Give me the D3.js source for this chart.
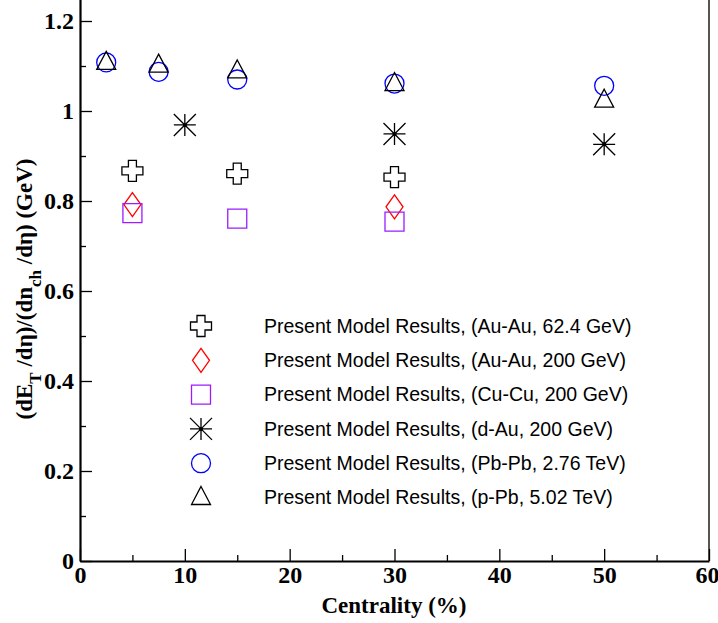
<!DOCTYPE html>
<html>
<head>
<meta charset="utf-8">
<script src="https://cdn.jsdelivr.net/npm/d3@7"></script>
<style>
  body { margin: 0; background: #fff; }
  svg { display: block; }
  .leg { font-family: "Liberation Sans", Arial, sans-serif; font-size: 19.5px; fill: #000; }
</style>
</head>
<body>
<svg id="chart" width="718" height="623"></svg>
<script>
// centrality (%) and <dET/deta>/<dNch/deta> (GeV) for each system
var centAuAu62 = [5, 15, 30];
var valAuAu62 = [0.867, 0.861, 0.853];

var centAuAu200 = [5, 30];
var valAuAu200 = [0.792, 0.787];

var centCuCu200 = [5, 15, 30];
var valCuCu200 = [0.773, 0.761, 0.754];

var centDAu200 = [10, 30, 50];
var valDAu200 = [0.969, 0.949, 0.926];

var centPbPb276 = [2.5, 7.5, 15, 30, 50];
var valPbPb276 = [1.108, 1.087, 1.070, 1.061, 1.056];

var centPPb502 = [2.5, 7.5, 15, 30, 50];
var valPPb502 = [1.108, 1.102, 1.089, 1.061, 1.024];

var xTicks = [0, 10, 20, 30, 40, 50, 60];
var xMinor = [5, 15, 25, 35, 45, 55];
var yTicks = [0, 0.2, 0.4, 0.6, 0.8, 1, 1.2];
var yMinor = [0.1, 0.3, 0.5, 0.7, 0.9, 1.1];

var series = [
  { label: 'Present Model Results, (Au-Au, 62.4 GeV)', x: centAuAu62, y: valAuAu62, shape: 'cross', color: '#000' },
  { label: 'Present Model Results, (Au-Au, 200 GeV)', x: centAuAu200, y: valAuAu200, shape: 'diamond', color: '#ff0000' },
  { label: 'Present Model Results, (Cu-Cu, 200 GeV)', x: centCuCu200, y: valCuCu200, shape: 'square', color: '#9b1cff' },
  { label: 'Present Model Results, (d-Au, 200 GeV)', x: centDAu200, y: valDAu200, shape: 'star', color: '#000' },
  { label: 'Present Model Results, (Pb-Pb, 2.76 TeV)', x: centPbPb276, y: valPbPb276, shape: 'circle', color: '#0000ff' },
  { label: 'Present Model Results, (p-Pb, 5.02 TeV)', x: centPPb502, y: valPPb502, shape: 'triangle', color: '#000' }
];

var serif = '"Liberation Serif", Tinos, "Times New Roman", Times, "DejaVu Serif", serif';

var svg = d3.select('#chart');

var x = d3.scaleLinear().domain([0, 60]).range([80, 709]);
var y = d3.scaleLinear().domain([0, 1.25]).range([561, 561 - 1.25 * 450]);

var fmt = function(d) { return d === 0 ? '0' : String(+d.toFixed(1)); };

// frame on the right
svg.append('line')
  .attr('x1', 709).attr('x2', 709)
  .attr('y1', y(1.25)).attr('y2', y(0))
  .attr('stroke', '#555').attr('stroke-width', 2);

// minor ticks
svg.append('g')
  .attr('transform', 'translate(0,561)')
  .call(d3.axisBottom(x).tickValues(xMinor).tickSize(-6).tickFormat(''))
  .call(function(g) { g.select('.domain').remove(); })
  .selectAll('line').attr('stroke', '#000').attr('stroke-width', 1.3);

svg.append('g')
  .attr('transform', 'translate(80,0)')
  .call(d3.axisLeft(y).tickValues(yMinor).tickSize(-6).tickFormat(''))
  .call(function(g) { g.select('.domain').remove(); })
  .selectAll('line').attr('stroke', '#000').attr('stroke-width', 1.3);

// main axes
var gx = svg.append('g')
  .attr('transform', 'translate(0,561)')
  .call(d3.axisBottom(x).tickValues(xTicks).tickSize(-12).tickSizeOuter(0).tickPadding(5).tickFormat(fmt))
  .attr('font-family', serif).attr('font-size', 24).attr('font-weight', 'bold');
gx.select('.domain').attr('stroke', '#000').attr('stroke-width', 2.2);
gx.selectAll('.tick line').attr('stroke', '#000').attr('stroke-width', 1.3);
gx.selectAll('.tick text').attr('fill', '#000')
  .filter(function(d) { return d === 60; }).attr('dx', -2);

var gy = svg.append('g')
  .attr('transform', 'translate(80,0)')
  .call(d3.axisLeft(y).tickValues(yTicks).tickSize(-12).tickSizeOuter(0).tickPadding(6).tickFormat(fmt))
  .attr('font-family', serif).attr('font-size', 24).attr('font-weight', 'bold');
gy.select('.domain').attr('stroke', '#000').attr('stroke-width', 2.2);
gy.selectAll('.tick line').attr('stroke', '#000').attr('stroke-width', 1.3);
gy.selectAll('.tick text').attr('fill', '#000');

// axis titles
svg.append('text')
  .attr('font-family', serif).attr('font-size', 23).attr('font-weight', 'bold')
  .attr('x', 394).attr('y', 613)
  .attr('text-anchor', 'middle')
  .text('Centrality (%)');

var yt = svg.append('text')
  .attr('font-family', serif).attr('font-size', 23).attr('font-weight', 'bold')
  .attr('transform', 'translate(32,289) rotate(-90)')
  .attr('text-anchor', 'middle');
yt.append('tspan').text('(dE');
yt.append('tspan').attr('dy', 9).attr('font-size', 17).text('T');
yt.append('tspan').attr('dy', -9).text(' /d\u03b7)/(dn');
yt.append('tspan').attr('dy', 9).attr('font-size', 17).text('ch');
yt.append('tspan').attr('dy', -9).text(' /d\u03b7) (GeV)');

// marker shapes
function shapePath(s) {
  if (s === 'cross') {
    var a = 4, r = 10.5;
    return 'M' + (-a) + ',' + (-r) + 'H' + a + 'V' + (-a) + 'H' + r + 'V' + a + 'H' + a + 'V' + r +
      'H' + (-a) + 'V' + a + 'H' + (-r) + 'V' + (-a) + 'H' + (-a) + 'Z';
  }
  if (s === 'diamond') return 'M0,-12L8.5,0L0,12L-8.5,0Z';
  if (s === 'square') return 'M-9.5,-9.5H9.5V9.5H-9.5Z';
  if (s === 'triangle') return 'M0,-11L9.5,7L-9.5,7Z';
  if (s === 'star') return 'M-11,0H11M0,-11V11M-11,-11L11,11M-11,11L11,-11';
  return null;
}

function drawMarker(g, s, color) {
  if (s === 'circle') {
    g.append('circle').attr('r', 9.5)
      .attr('fill', 'none').attr('stroke', color).attr('stroke-width', 1.3);
  } else {
    g.append('path').attr('d', shapePath(s))
      .attr('fill', 'none').attr('stroke', color).attr('stroke-width', 1.3);
    if (s === 'star') g.append('circle').attr('r', 2).attr('fill', color);
  }
}

// data points
series.forEach(function(sr) {
  var pts = sr.x.map(function(c, i) { return [c, sr.y[i]]; });
  svg.append('g').selectAll('g')
    .data(pts)
    .enter().append('g')
    .attr('transform', function(d) { return 'translate(' + x(d[0]) + ',' + y(d[1]) + ')'; })
    .each(function() { drawMarker(d3.select(this), sr.shape, sr.color); });
});

// legend
var leg = svg.append('g');
series.forEach(function(sr, i) {
  var row = leg.append('g').attr('transform', 'translate(0,' + (326 + i * 34.3) + ')');
  var m = row.append('g').attr('transform', 'translate(201,0)');
  drawMarker(m, sr.shape, sr.color);
  row.append('text').attr('class', 'leg')
    .attr('x', 264).attr('dy', '0.35em')
    .text(sr.label);
});
</script>
</body>
</html>
